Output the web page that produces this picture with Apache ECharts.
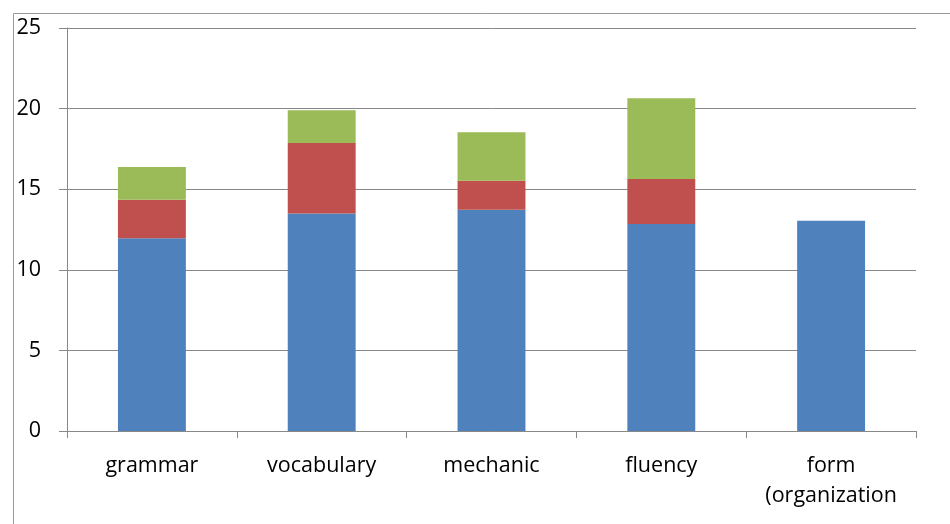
<!DOCTYPE html>
<html>
<head>
<meta charset="utf-8">
<script src="https://cdn.jsdelivr.net/npm/echarts@6/dist/echarts.min.js"></script>
<style>
html,body{margin:0;padding:0;background:#fff;}
#chart{width:950px;height:524px;}
</style>
</head>
<body>
<div id="chart"></div>
<script>
const categories = ['grammar', 'vocabulary', 'mechanic', 'fluency', 'form\n(organization'];
const seriesBlue = [11.95, 13.49, 13.73, 12.84, 13.05];
const seriesRed = [2.40, 4.37, 1.80, 2.79, 0];
const seriesGreen = [2.03, 2.03, 3.00, 5.01, 0];
const yTicks = {min: 0, max: 25, interval: 5};

const chart = echarts.init(document.getElementById('chart'));
const FONT = 'Open Sans';
function bar(name, data, color) {
  return {
    name: name, type: 'bar', stack: 'total', data: data, barWidth: '40%',
    itemStyle: {color: color}, silent: true
  };
}
chart.setOption({
  animation: false,
  graphic: [{
    type: 'rect', left: 11, top: 11, z: -1,
    shape: {width: 960, height: 540},
    style: {fill: 'none', stroke: '#9a9a9a', lineWidth: 1}
  }],
  grid: {left: 67, right: 34, top: 28, bottom: 93, containLabel: false},
  xAxis: {
    type: 'category', data: categories,
    axisLine: {lineStyle: {color: '#888', width: 1}},
    axisTick: {show: true, length: 7, inside: false, lineStyle: {color: '#888'}},
    axisLabel: {color: '#000', fontFamily: FONT, fontSize: 21.5, margin: 20, lineHeight: 30, interval: 0}
  },
  yAxis: {
    type: 'value', min: yTicks.min, max: yTicks.max, interval: yTicks.interval,
    axisLine: {show: true, lineStyle: {color: '#888', width: 1}},
    axisTick: {show: true, length: 8, lineStyle: {color: '#888'}},
    splitLine: {lineStyle: {color: '#888', width: 1}},
    axisLabel: {color: '#000', fontFamily: FONT, fontSize: 21.5, margin: 26}
  },
  series: [
    bar('A', seriesBlue, '#4F81BD'),
    bar('B', seriesRed, '#C0504D'),
    bar('C', seriesGreen, '#9BBB59')
  ]
});
</script>
</body>
</html>
